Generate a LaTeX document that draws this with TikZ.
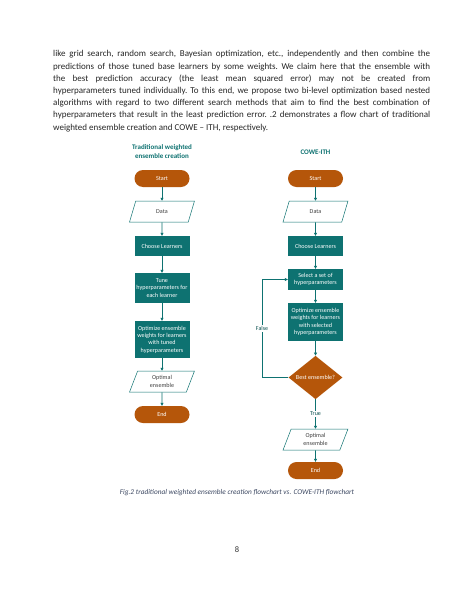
\documentclass[tikz,border=0pt]{standalone}
\usepackage{fontspec}
\setmainfont{Carlito}
\usetikzlibrary{shapes.geometric,arrows.meta}

\definecolor{teal}{RGB}{14,114,113}
\definecolor{burnt}{RGB}{181,86,10}
\definecolor{capblue}{RGB}{60,72,98}

\tikzset{
  boxtext/.style={font=\fontsize{6.1}{7.4}\selectfont, align=center, inner sep=0pt},
  terminal/.style={boxtext, fill=burnt, text=white, rounded corners=8.5pt, minimum width=55pt, minimum height=17pt},
  process/.style={boxtext, fill=teal, text=white, minimum width=55pt},
  iodata/.style={boxtext, draw=teal, line width=0.5pt, fill=white, text=black!75, trapezium, trapezium left angle=71, trapezium right angle=109, trapezium stretches=true, minimum width=65pt, minimum height=21pt},
  decision/.style={boxtext, diamond, fill=burnt, text=white, minimum width=54pt, minimum height=39pt},
  flowline/.style={draw=teal, line width=0.6pt, -{Triangle[length=3pt,width=3pt]}},
  looplabel/.style={font=\fontsize{6}{7}\selectfont, text=teal!70!black, fill=white, inner sep=1pt},
  heading/.style={font=\fontsize{7}{8.5}\selectfont\bfseries, text=teal, align=center}
}

\begin{document}
\begin{tikzpicture}[x=1pt, y=-1pt]
      \fill[white] (0,0) rectangle (474,613);
      \useasboundingbox (0,0) rectangle (474,613);

      % body text
      \node[anchor=north west, inner sep=0pt, text width=377pt, align=justify, text=black!85,
            font=\fontsize{9}{12.2}\selectfont\frenchspacing] (para) at (53,50.5)
        {like grid search, random search, Bayesian optimization, etc., independently and then combine the\linebreak
         predictions of those tuned base learners by some weights. We claim here that the ensemble with\linebreak
         the best prediction accuracy (the least mean squared error) may not be created from\linebreak
         hyperparameters tuned individually. To this end, we propose two bi-level optimization based nested\linebreak
         algorithms with regard to two different search methods that aim to find the best combination of\linebreak
         hyperparameters that result in the least prediction error. .2 demonstrates a flow chart of traditional\linebreak
         weighted ensemble creation and COWE -- ITH, respectively.};

      % traditional flowchart
      \node[heading] (ltitle) at (162,151.5) {Traditional weighted\\ensemble creation};
      \node[terminal] (lstart) at (162,178.5) {Start};
      \node[iodata] (ldata) at (162,211.5) {Data};
      \node[process, minimum height=20pt] (llearn) at (162,246) {Choose Learners};
      \node[process, minimum height=30pt] (ltune) at (162,288) {Tune\\hyperparameters for\\each learner};
      \node[process, minimum height=37pt] (lopt) at (162,339.5) {Optimize ensemble\\weights for learners\\with tuned\\hyperparameters};
      \node[iodata] (lout) at (162,381.5) {Optimal\\ensemble};
      \node[terminal] (lend) at (162,414.5) {End};

      \draw[flowline] (lstart) -- (ldata);
      \draw[flowline] (ldata) -- (llearn);
      \draw[flowline] (llearn) -- (ltune);
      \draw[flowline] (ltune) -- (lopt);
      \draw[flowline] (lopt) -- (lout);
      \draw[flowline] (lout) -- (lend);

      % COWE-ITH flowchart
      \node[heading] (rtitle) at (315.5,152) {COWE-ITH};
      \node[terminal] (rstart) at (315.5,178.5) {Start};
      \node[iodata] (rdata) at (315.5,211.5) {Data};
      \node[process, minimum height=20pt] (rlearn) at (315.5,246) {Choose Learners};
      \node[process, minimum height=21pt] (rsel) at (315.5,279.5) {Select a set of\\hyperparameters};
      \node[process, minimum height=38pt] (ropt) at (315.5,322) {Optimize ensemble\\weights for learners\\with selected\\hyperparameters};
      \node[decision] (rbest) at (315.5,377.5) {Best ensemble?};
      \node[iodata] (rout) at (315.5,439.5) {Optimal\\ensemble};
      \node[terminal] (rend) at (315.5,470.5) {End};
      \coordinate (rloop) at (262,377.5);

      \draw[flowline] (rstart) -- (rdata);
      \draw[flowline] (rdata) -- (rlearn);
      \draw[flowline] (rlearn) -- (rsel);
      \draw[flowline] (rsel) -- (ropt);
      \draw[flowline] (ropt) -- (rbest);
      \draw[flowline] (rbest) -- node[looplabel] (rtrue) {True} (rout);
      \draw[flowline] (rout) -- (rend);
      \draw[flowline] (rbest.west) -- (rloop) -- node[looplabel] (rfalse) {False} (rloop |- rsel.west) -- (rsel.west);

      % caption and page number
      \node[font=\fontsize{7.3}{8}\selectfont\itshape, text=capblue] (caption) at (237,493)
        {Fig.2 traditional weighted ensemble creation flowchart vs. COWE-ITH flowchart};
      \node[font=\fontsize{8.5}{10}\selectfont, text=black!80] (pagenum) at (237,550) {8};
    \end{tikzpicture}
\end{document}
